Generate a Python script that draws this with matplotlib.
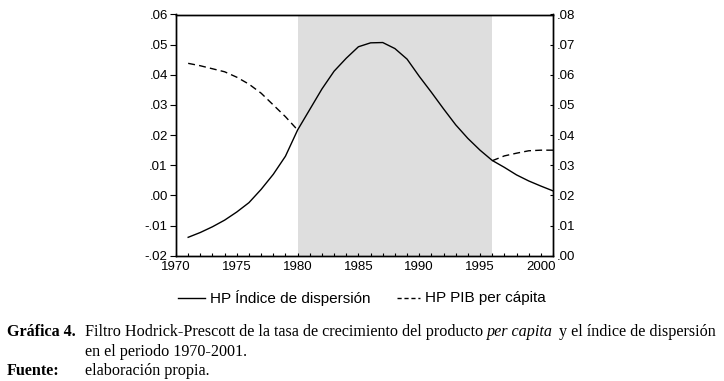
import matplotlib.pyplot as plt
import numpy as np

plt.rcParams['font.family'] = ['Liberation Sans', 'DejaVu Sans']

# HP filtered series, annual 1971-2001
years = np.arange(1971, 2002)
hp_dispersion = [-0.0139, -0.0123, -0.0104, -0.0082, -0.0055, -0.0024, 0.0020,
                 0.0070, 0.0130, 0.0217, 0.0285, 0.0353, 0.0412, 0.0455, 0.0493,
                 0.0506, 0.0507, 0.0487, 0.0452, 0.0395, 0.0342, 0.0287, 0.0234,
                 0.0189, 0.0150, 0.0116, 0.0093, 0.0068, 0.0048, 0.0031, 0.0015]
# PIB per capita (right axis), missing inside the shaded period
hp_pib = [0.0638, 0.0630, 0.0620, 0.0610, 0.0592, 0.0569, 0.0539, 0.0500,
          0.0461, 0.0417] + [np.nan] * 15 + [0.0315, 0.0331, 0.0340, 0.0348,
                                               0.0350, 0.0350]
shade_years = (1980, 1996)

left_ticks = [-0.02, -0.01, 0.00, 0.01, 0.02, 0.03, 0.04, 0.05, 0.06]
right_ticks = [0.00, 0.01, 0.02, 0.03, 0.04, 0.05, 0.06, 0.07, 0.08]
x_ticks = [1970, 1975, 1980, 1985, 1990, 1995, 2000]


def fmt(v):
    s = f"{v:.2f}"
    return s.replace("0.", ".", 1)


W, H = 724, 381
fig = plt.figure(figsize=(W / 100, H / 100), dpi=100)
ax = fig.add_axes([176 / W, 1 - 255.7 / H, 377 / W, 241.2 / H])
ax2 = ax.twinx()

ax.axvspan(shade_years[0], shade_years[1], color='#dedede', lw=0, zorder=0)
ax.plot(years, hp_dispersion, color='black', lw=1.0, zorder=3)
ax2.plot(years, hp_pib, color='black', lw=1.0, dashes=(5, 3), zorder=3)

ax.set_xlim(1970, 2001)
ax.set_ylim(-0.02, 0.06)
ax2.set_ylim(0.0, 0.08)

ax.set_yticks(left_ticks)
ax.set_yticklabels([fmt(v) for v in left_ticks], fontsize=9.5)
ax2.set_yticks(right_ticks)
ax2.set_yticklabels([fmt(v) for v in right_ticks], fontsize=9.5)
ax.set_xticks(x_ticks)
ax.set_xticklabels([str(v) for v in x_ticks], fontsize=9.5)
ax.set_xticks(np.arange(1970, 2002), minor=True)

ax.tick_params(axis='y', direction='out', length=4, width=0.8, pad=2)
ax.tick_params(axis='x', which='both', direction='in', length=2, width=0.8, pad=4)
ax2.tick_params(axis='y', direction='in', length=2, width=0.8, pad=3)

for a in (ax, ax2):
    for sp in a.spines.values():
        sp.set_linewidth(1.0)

# legend under the plot, placed by hand to follow the original spacing
ly = 1 - 298 / H
fig.add_artist(plt.Line2D([178 / W, 205 / W], [ly, ly], color='black', lw=1.0))
fig.text(210 / W, ly, 'HP Índice de dispersión', fontsize=11, va='center')
fig.add_artist(plt.Line2D([397 / W, 420 / W], [ly, ly], color='black', lw=1.0, dashes=(3, 2)))
fig.text(425 / W, ly, 'HP PIB per cápita', fontsize=11, va='center')

# caption
serif = ['Liberation Serif', 'DejaVu Serif']
cs = 11.6
y1, y2, y3 = 1 - 332 / H, 1 - 352 / H, 1 - 371 / H
fig.text(7 / W, y1, 'Gráfica 4.', family=serif, fontweight='bold', fontsize=cs, va='center')
t1 = fig.text(85 / W, y1, 'Filtro Hodrick-Prescott de la tasa de crecimiento del producto ',
              family=serif, fontsize=cs, va='center')
fig.text(85 / W, y2, 'en el periodo 1970-2001.', family=serif, fontsize=cs, va='center')
fig.text(7 / W, y3, 'Fuente:', family=serif, fontweight='bold', fontsize=cs, va='center')
fig.text(85 / W, y3, 'elaboración propia.', family=serif, fontsize=cs, va='center')

# put the italic part right after the first caption segment
fig.canvas.draw()
r = fig.canvas.get_renderer()
bb = t1.get_window_extent(r)
t2 = fig.text(bb.x1 / W, y1, 'per capita', family=serif, style='italic', fontsize=cs, va='center')
bb2 = t2.get_window_extent(r)
fig.text(bb2.x1 / W + 0.008, y1, 'y el índice de dispersión',
         family=serif, fontsize=cs, va='center')

fig.savefig('out.png', dpi=100)
